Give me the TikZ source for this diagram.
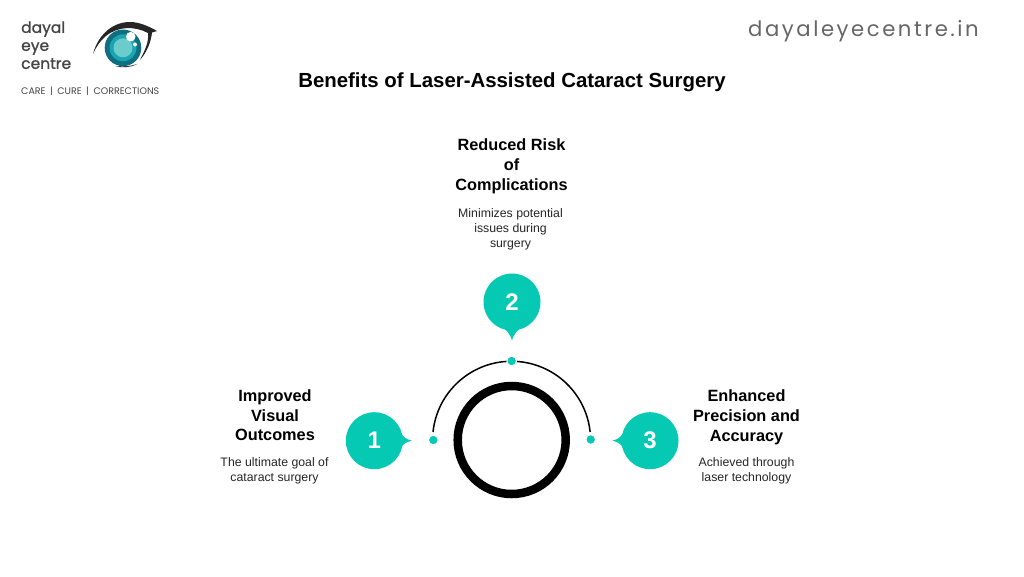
\documentclass[tikz,border=0pt]{standalone}
\usepackage{fontspec}
\setmainfont{Liberation Sans}
\newfontfamily\popp{Poppins}
\newfontfamily\poppb[FakeBold=1.0]{Poppins}
\newfontfamily\popw[LetterSpace=12]{Poppins}
\definecolor{teal1}{HTML}{06C9B3}
\definecolor{logotext}{HTML}{444444}
\definecolor{irisa}{HTML}{0F6E80}
\definecolor{irisb}{HTML}{19A5B2}
\definecolor{irisc}{HTML}{6CCBCB}
\tikzset{
 x=1pt,y=-1pt,
 head/.style={font=\fontsize{16.3}{19.8}\selectfont\bfseries,align=center,text=black,inner sep=0pt},
 body/.style={font=\fontsize{12.3}{14.8}\selectfont,align=center,text=black!85,inner sep=0pt},
 bubble/.style={circle,fill=teal1,minimum size=57pt,inner sep=0pt,text=white,font=\fontsize{24}{24}\selectfont\bfseries},
 dot/.style={circle,fill=teal1,minimum size=9.7pt,inner sep=0pt,draw=white,line width=1pt},
 tip/.style={fill=teal1,draw=none},
}
\begin{document}
\begin{tikzpicture}
\useasboundingbox (0,0) rectangle (1024,576);
\fill[white] (0,0) rectangle (1024,576);
% logo
\fill[black!85] (93,54) .. controls (97,38) and (110,22) .. (130,22) .. controls (140,22) and (150,27) .. (157,31) -- (152,32.5) .. controls (151,42) and (147,52) .. (140,60) .. controls (145,50) and (149,42) .. (148,33) .. controls (135,26) and (118,26) .. (106,36) .. controls (100,41) and (96,47) .. (93,54) -- cycle;
\fill[black!80] (115,66) .. controls (122,68) and (130,68) .. (137,64) .. controls (130,66.5) and (124,66.5) .. (115,66) -- cycle;
\fill[irisa] (123,47.8) circle (18.3);
\fill[irisb] (123,47.8) circle (13.5);
\fill[irisc] (123,47.8) circle (9.5);
\fill[white] (130.7,36.7) circle (4.8);
\fill[white] (135,44.5) circle (2);
\node[anchor=west,inner sep=0pt,font=\poppb\fontsize{15.5}{18}\selectfont,text=logotext,align=left] (brand) at (21,45.2) {dayal\\eye\\centre};
\node[anchor=west,inner sep=0pt,font=\popp\fontsize{9.5}{11}\selectfont,text=logotext] (motto) at (21,91) {CARE\hspace{4.5pt}|\hspace{4.5pt}CURE\hspace{4.5pt}|\hspace{4.5pt}CORRECTIONS};
\node[anchor=east,inner sep=0pt,font=\popw\fontsize{21.2}{26}\selectfont,text=black!60] (site) at (979,31) {dayaleyecentre.in};
% title
\node[inner sep=0pt,font=\fontsize{20.4}{24}\selectfont\bfseries] (title) at (512,82.7) {Benefits of Laser-Assisted Cataract Surgery};
% ring and arc
\coordinate (c) at (511.7,440);
\node[circle,draw=black,line width=8.5pt,minimum size=108pt,inner sep=0pt] (ring) at (c) {};
\draw[line width=1.5pt] (433,432) arc[start angle=-174,end angle=-6,radius=79];
% bubbles
\fill[tip] (399,430) .. controls (402,436) and (405,439) .. (411.8,440.7) .. controls (405,442) and (402,445) .. (399,451) -- cycle;
\fill[tip] (501,326) .. controls (506,330) and (510,333) .. (512,340.3) .. controls (514,333) and (518,330) .. (523,326) -- cycle;
\fill[tip] (625,430) .. controls (622,436) and (619,439) .. (612.6,440.7) .. controls (619,442) and (622,445) .. (625,451) -- cycle;
\node[bubble] (b1) at (374.3,440.7) {1};
\node[bubble] (b2) at (512,302) {2};
\node[bubble] (b3) at (650,440.7) {3};
\node[dot] (d1) at (433.3,440) {};
\node[dot] (d2) at (511.7,361) {};
\node[dot] (d3) at (590.7,439.5) {};
% texts
\node[head] (h1) at (275,415.3) {Improved\\Visual\\Outcomes};
\node[body] (t1) at (274.5,471) {The ultimate goal of\\cataract surgery};
\node[head] (h2) at (511.5,166) {Reduced Risk\\of\\Complications};
\node[body] (t2) at (510.5,229.5) {Minimizes potential\\issues during\\surgery};
\node[head] (h3) at (746.5,417.3) {Enhanced\\Precision and\\Accuracy};
\node[body] (t3) at (746.5,471) {Achieved through\\laser technology};
\end{tikzpicture}
\end{document}
